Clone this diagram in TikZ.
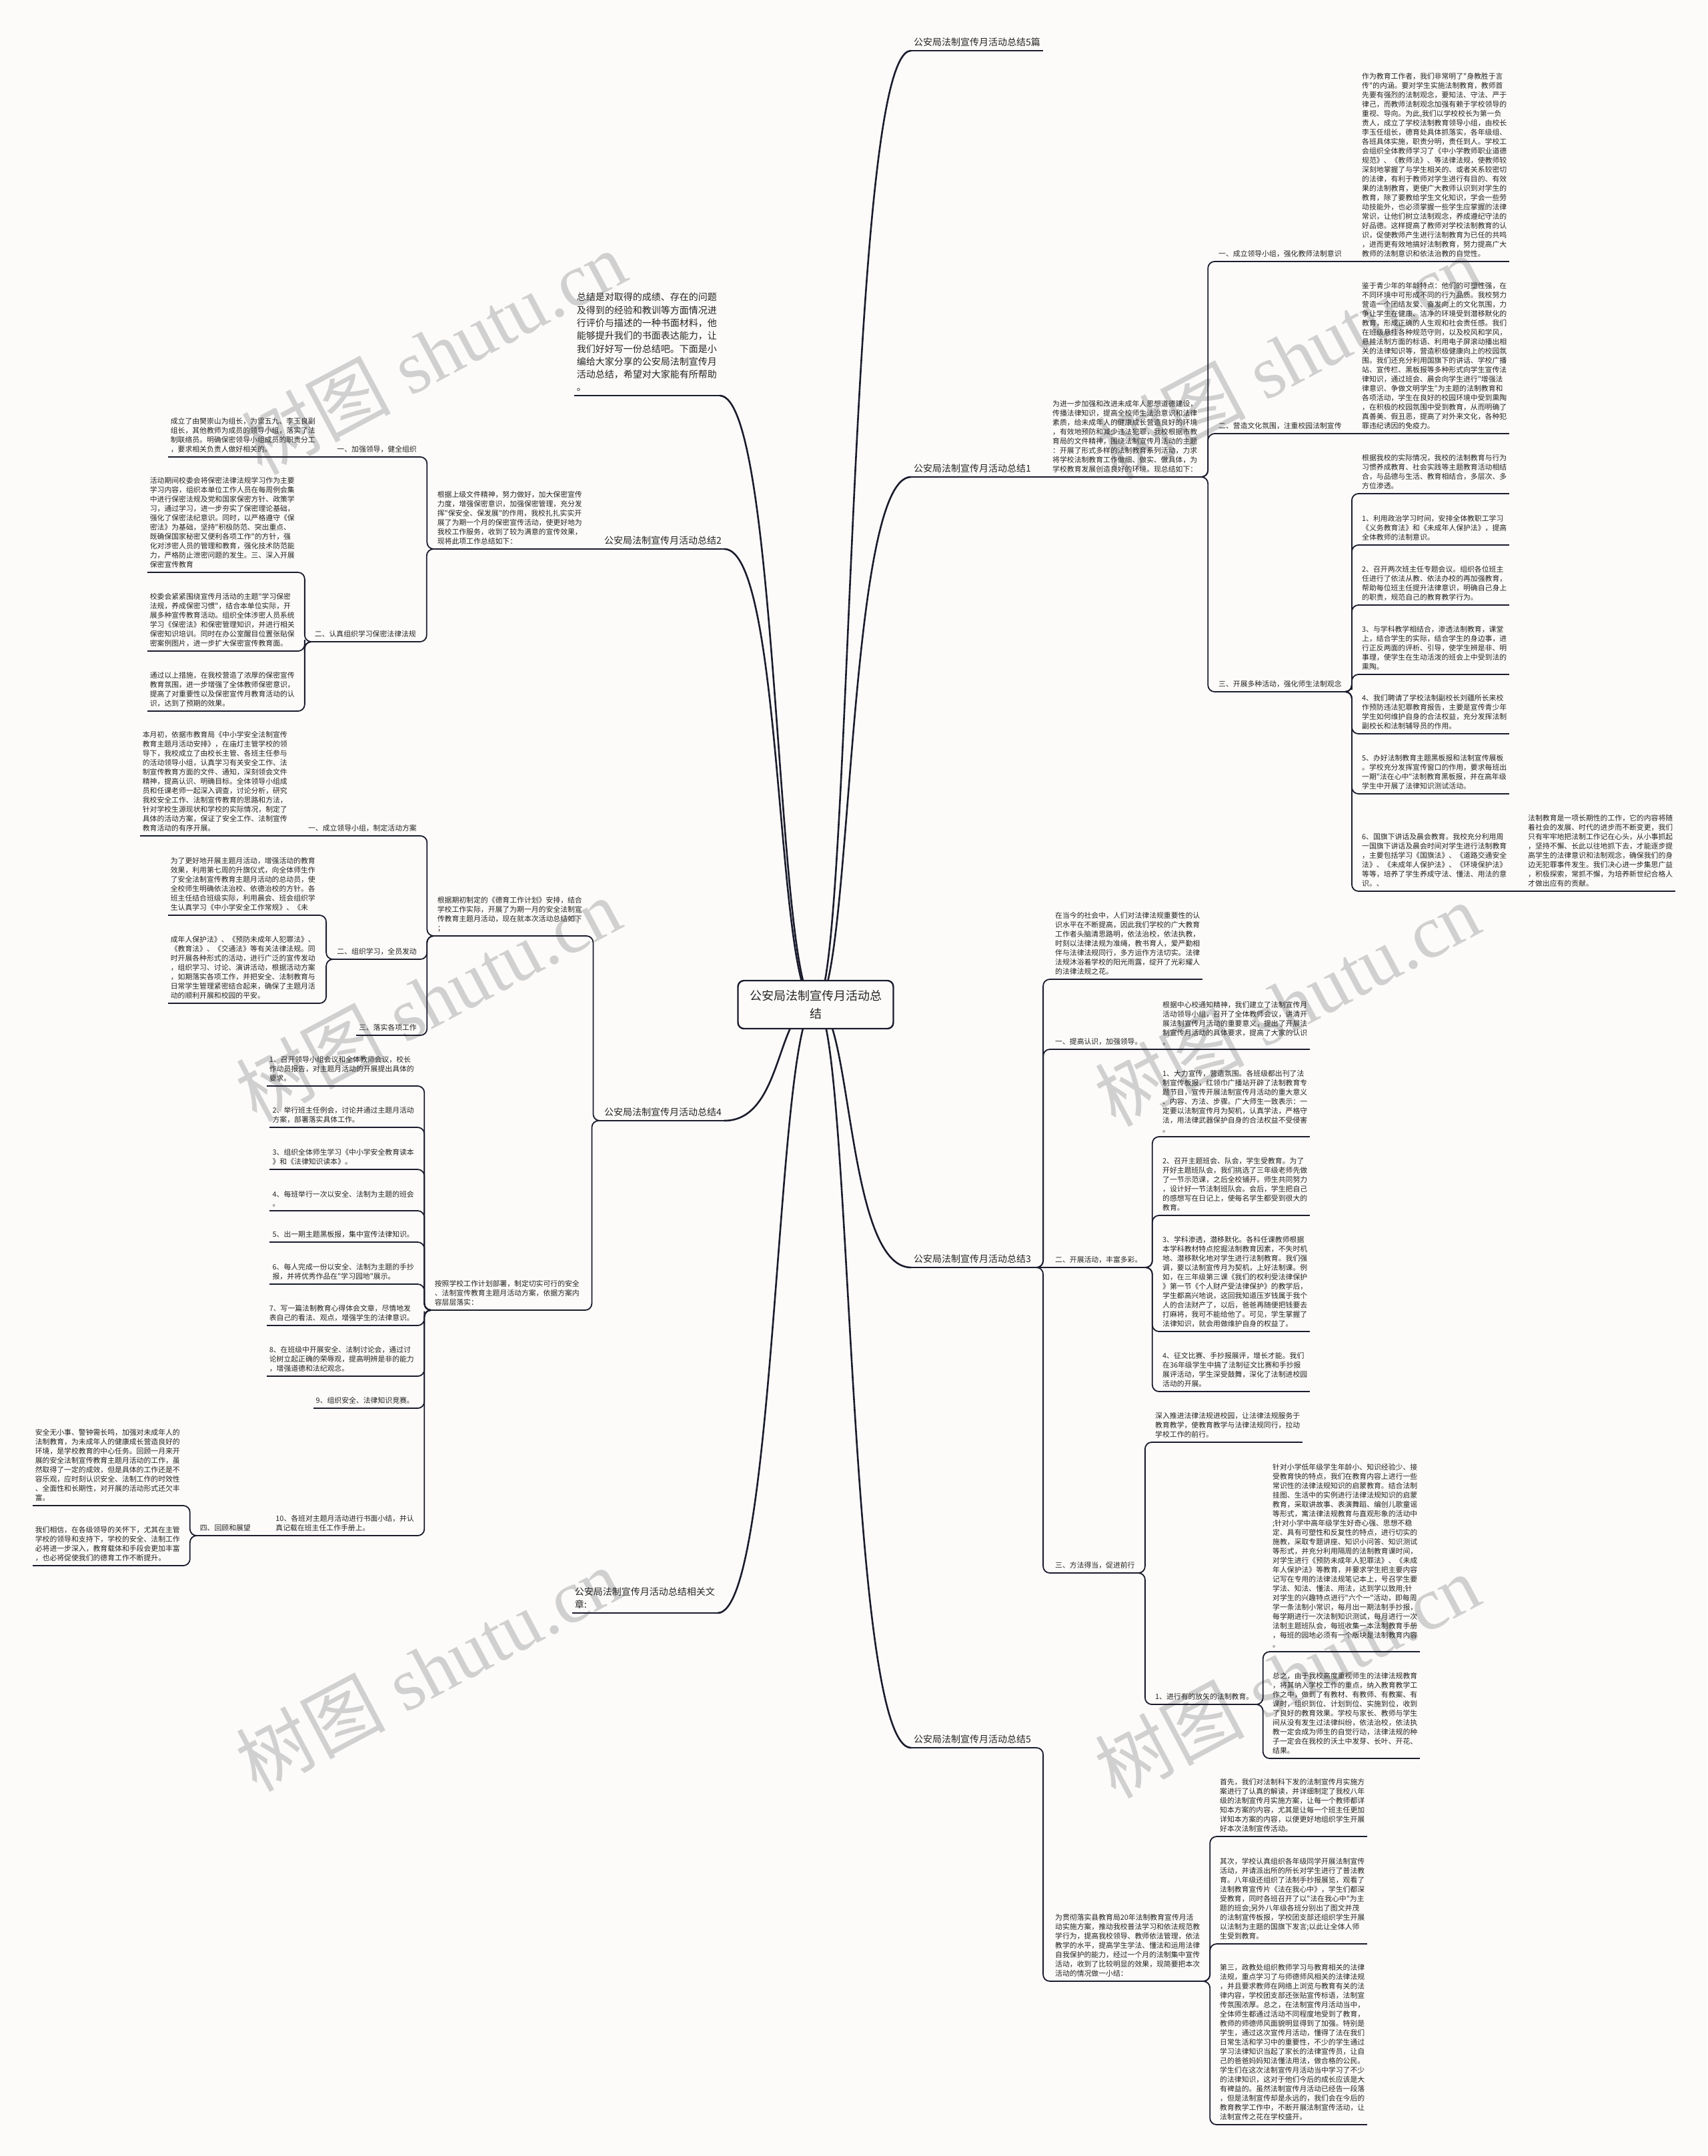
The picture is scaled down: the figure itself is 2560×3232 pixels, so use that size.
\documentclass[tikz,border=0pt]{standalone}
\usepackage{fontspec}
\newfontfamily\cjk{Noto Sans CJK SC}
\newfontfamily\wmser{Liberation Serif}
\usetikzlibrary{calc}
\definecolor{bgc}{RGB}{253,251,250}
\definecolor{lc}{RGB}{26,28,44}
\definecolor{tc}{RGB}{36,36,36}
\definecolor{wmc}{RGB}{208,208,208}
\pgfdeclarelayer{wmlayer}
\pgfdeclarelayer{bglayer}
\pgfsetlayers{wmlayer,bglayer,main}
\tikzset{
  ln/.style={draw=lc,line width=1.8pt},
  mln/.style={draw=lc,line width=2.6pt},
  tx/.style={font=\cjk\fontsize{10.85}{14}\selectfont,text=tc,align=left,inner xsep=4pt,inner ysep=6pt},
  rt/.style={tx,anchor=south west},
  lt/.style={tx,anchor=south east},
  mlab/.style={font=\cjk\fontsize{14}{19}\selectfont,text=tc,align=left,inner xsep=4pt,inner ysep=6pt},
  rm/.style={mlab,anchor=south west},
  lm/.style={mlab,anchor=south east},
  summ/.style={font=\cjk\fontsize{14}{19.3}\selectfont,text=tc,align=left,inner xsep=4pt,inner ysep=6pt,anchor=south east},
  ctrbox/.style={draw=lc,line width=2.4pt,fill=bgc,rounded corners=9pt,font=\cjk\fontsize{18}{27}\selectfont,text=tc,align=center,minimum width=233pt,minimum height=72pt},
  wm/.style={font=\wmser\fontsize{112}{112}\selectfont,text=wmc,rotate=28,inner sep=0pt},
}
\newcommand\rs[2]{\draw[ln] (#1.south east) -- (#2.south west);}
\newcommand\ls[2]{\draw[ln] (#1.south west) -- (#2.south east);}
\newcommand\rb[2]{\draw[ln,rounded corners=10pt] (#1.south east) -| ($(#1.south east)!0.5!(#2.south west)$) |- (#2.south west);}
\newcommand\lb[2]{\draw[ln,rounded corners=10pt] (#1.south west) -| ($(#1.south west)!0.5!(#2.south east)$) |- (#2.south east);}
\newcommand\mr[1]{\draw[mln] (ctr.center) .. controls +(55,0) and +(-98,0) .. (#1.south west);}
\newcommand\ml[1]{\draw[mln] (ctr.center) .. controls +(-60,0) and +(90,0) .. (#1.south east);}
\begin{document}
\begin{tikzpicture}[x=1pt,y=-1pt]
\useasboundingbox (0,0) rectangle (2560,3232);
\begin{pgfonlayer}{wmlayer}
\fill[bgc] (0,0) rectangle (2560,3232);
\node[wm] (w1) at (650,528) {{\cjk 树图} shutu.cn};
\node[wm] (w2) at (1932,535) {{\cjk 树图} shutu.cn};
\node[wm] (w3) at (642,1498) {{\cjk 树图} shutu.cn};
\node[wm] (w4) at (1930,1505) {{\cjk 树图} shutu.cn};
\node[wm] (w5) at (642,2502) {{\cjk 树图} shutu.cn};
\node[wm] (w6) at (1930,2512) {{\cjk 树图} shutu.cn};
\end{pgfonlayer}

\node[ctrbox] (ctr) at (1223,1506) {公安局法制宣传月活动总\\结};

% ---------------- right side ----------------
\node[rm] (r0) at (1366,76) {公安局法制宣传月活动总结5篇};
\node[rm] (r1) at (1366,715) {公安局法制宣传月活动总结1};
\node[rt] (r1a) at (1574,715) {为进一步加强和改进未成年人思想道德建设，\\传播法律知识，提高全校师生法治意识和法律\\素质，给未成年人的健康成长营造良好的环境\\，有效地预防和减少违法犯罪，我校根据市教\\育局的文件精神，围绕法制宣传月活动的主题\\：开展了形式多样的法制教育系列活动，力求\\将学校法制教育工作做细、做实、做具体，为\\学校教育发展创造良好的环境。现总结如下：};
\node[rt] (r1a1) at (1823,392) {一、成立领导小组，强化教师法制意识};
\node[rt] (r1a1a) at (2038,392) {作为教育工作者，我们非常明了"身教胜于言\\传"的内涵。要对学生实施法制教育，教师首\\先要有强烈的法制观念，要知法、守法、严于\\律己，而教师法制观念加强有赖于学校领导的\\重视、导向。为此,我们以学校校长为第一负\\责人，成立了学校法制教育领导小组，由校长\\李玉任组长，德育处具体抓落实，各年级组、\\各班具体实施，职责分明，责任到人。学校工\\会组织全体教师学习了《中小学教师职业道德\\规范》、《教师法》、等法律法规，使教师较\\深刻地掌握了与学生相关的、或者关系较密切\\的法律，有利于教师对学生进行有目的、有效\\果的法制教育，更使广大教师认识到对学生的\\教育，除了要教给学生文化知识，学会一些劳\\动技能外，也必须掌握一些学生应掌握的法律\\常识，让他们树立法制观念，养成遵纪守法的\\好品德。这样提高了教师对学校法制教育的认\\识，促使教师产生进行法制教育为已任的共鸣\\，进而更有效地搞好法制教育，努力提高广大\\教师的法制意识和依法治教的自觉性。};
\node[rt] (r1a2) at (1823,650) {二、营造文化氛围，注重校园法制宣传};
\node[rt] (r1a2a) at (2038,650) {鉴于青少年的年龄特点：他们的可塑性强，在\\不同环境中可形成不同的行为品质。我校努力\\营造一个团结友爱、奋发向上的文化氛围，力\\争让学生在健康、洁净的环境受到潜移默化的\\教育，形成正确的人生观和社会责任感。我们\\在班级悬挂各种规范守则，以及校风和学风，\\悬挂法制方面的标语、利用电子屏滚动播出相\\关的法律知识等，营造积极健康向上的校园氛\\围。我们还充分利用国旗下的讲话、学校广播\\站、宣传栏、黑板报等多种形式向学生宣传法\\律知识，通过班会、晨会向学生进行"增强法\\律意识、争做文明学生"为主题的法制教育和\\各项活动，学生在良好的校园环境中受到熏陶\\，在积极的校园氛围中受到教育，从而明确了\\真善美、假丑恶，提高了对外来文化，各种犯\\罪违纪诱因的免疫力。};
\node[rt] (r1a3) at (1823,1037) {三、开展多种活动，强化师生法制观念};
\node[rt] (c0) at (2038,740) {根据我校的实际情况，我校的法制教育与行为\\习惯养成教育、社会实践等主题教育活动相结\\合，与品德与生活、教育相结合，多层次、多\\方位渗透。};
\node[rt] (c1) at (2038,817) {1、利用政治学习时间，安排全体教职工学习\\《义务教育法》和《未成年人保护法》，提高\\全体教师的法制意识。};
\node[rt] (c2) at (2038,907) {2、召开两次班主任专题会议。组织各位班主\\任进行了依法从教、依法办校的再加强教育，\\帮助每位班主任提升法律意识，明确自己身上\\的职责，规范自己的教育教学行为。};
\node[rt] (c3) at (2038,1011) {3、与学科教学相结合，渗透法制教育，课堂\\上，结合学生的实际，结合学生的身边事，进\\行正反两面的评析、引导，使学生辨是非、明\\事理，使学生在生动活泼的班会上中受到法的\\熏陶。};
\node[rt] (c4) at (2038,1100) {4、我们聘请了学校法制副校长刘疆所长来校\\作预防违法犯罪教育报告，主要是宣传青少年\\学生如何维护自身的合法权益，充分发挥法制\\副校长和法制辅导员的作用。};
\node[rt] (c5) at (2038,1190) {5、办好法制教育主题黑板报和法制宣传展板\\。学校充分发挥宣传窗口的作用，要求每班出\\一期"法在心中"法制教育黑板报，并在高年级\\学生中开展了法律知识测试活动。};
\node[rt] (c6) at (2038,1336) {6、国旗下讲话及晨会教育。我校充分利用周\\一国旗下讲话及晨会时间对学生进行法制教育\\，主要包括学习《国旗法》、《道路交通安全\\法》、《未成年人保护法》、《环境保护法》\\等等，培养了学生养成守法、懂法、用法的意\\识。、};
\node[rt] (c6a) at (2287,1336) {法制教育是一项长期性的工作，它的内容将随\\着社会的发展、时代的进步而不断变更，我们\\只有牢牢地把法制工作记在心头，从小事抓起\\，坚持不懈、长此以往地抓下去，才能逐步提\\高学生的法律意识和法制观念，确保我们的身\\边无犯罪事件发生。我们决心进一步集思广益\\，积极探索，常抓不懈，为培养新世纪合格人\\才做出应有的贡献。};

\node[rm] (r3) at (1366,1900) {公安局法制宣传月活动总结3};
\node[rt] (r3a) at (1578,1468) {在当今的社会中，人们对法律法规重要性的认\\识水平在不断提高，因此我们学校的广大教育\\工作者头脑清思路明，依法治校，依法执教，\\时刻以法律法规为准绳，教书育人，爱严勤相\\伴与法律法规同行，多方运作方法切实。法律\\法规沐浴着学校的阳光雨露，绽开了光彩耀人\\的法律法规之花。};
\node[rt] (r3b) at (1578,1573) {一、提高认识，加强领导。};
\node[rt] (r3b1) at (1739,1573) {根据中心校通知精神，我们建立了法制宣传月\\活动领导小组，召开了全体教师会议，讲清开\\展法制宣传月活动的重要意义，提出了开展法\\制宣传月活动的具体要求，提高了大家的认识\\。};
\node[rt] (r3c) at (1578,1900) {二、开展活动，丰富多彩。};
\node[rt] (r3c1) at (1739,1704) {1、大力宣传，营造氛围。各班级都出刊了法\\制宣传板报，红领巾广播站开辟了法制教育专\\题节目，宣传开展法制宣传月活动的重大意义\\、内容、方法、步骤。广大师生一致表示：一\\定要以法制宣传月为契机，认真学法，严格守\\法，用法律武器保护自身的合法权益不受侵害\\。};
\node[rt] (r3c2) at (1739,1822) {2、召开主题班会、队会，学生受教育。为了\\开好主题班队会，我们挑选了三年级老师先做\\了一节示范课，之后全校铺开。师生共同努力\\，设计好一节法制班队会。会后，学生把自己\\的感想写在日记上，使每名学生都受到很大的\\教育。};
\node[rt] (r3c3) at (1739,1996) {3、学科渗透，潜移默化。各科任课教师根据\\本学科教材特点挖掘法制教育因素，不失时机\\地、潜移默化地对学生进行法制教育。我们强\\调，要以法制宣传月为契机，上好法制课。例\\如，在三年级第三课《我们的权利受法律保护\\》第一节《个人财产受法律保护》的教学后，\\学生都高兴地说，这回我知道压岁钱属于我个\\人的合法财产了，以后，爸爸再随便把钱要去\\打麻将，我可不能给他了。可见，学生掌握了\\法律知识，就会用做维护自身的权益了。};
\node[rt] (r3c4) at (1739,2086) {4、征文比赛、手抄报展评，增长才能。我们\\在36年级学生中搞了法制征文比赛和手抄报\\展评活动，学生深受鼓舞，深化了法制进校园\\活动的开展。};
\node[rt] (r3d) at (1578,2358) {三、方法得当，促进前行};
\node[rt] (r3d1) at (1728,2162) {深入推进法律法规进校园，让法律法规服务于\\教育教学，使教育教学与法律法规同行，拉动\\学校工作的前行。};
\node[rt] (r3d2) at (1728,2555) {1、进行有的放矢的法制教育。};
\node[rt] (r3d2a) at (1904,2476) {针对小学低年级学生年龄小、知识经验少、接\\受教育快的特点，我们在教育内容上进行一些\\常识性的法律法规知识的启蒙教育。结合法制\\挂图、生活中的实例进行法律法规知识的启蒙\\教育，采取讲故事、表演舞蹈、编创儿歌童谣\\等形式，寓法律法规教育与直观形象的活动中\\;针对小学中高年级学生好奇心强、思想不稳\\定、具有可塑性和反复性的特点，进行切实的\\施教，采取专题讲座、知识小问答、知识测试\\等形式，并充分利用隔周的法制教育课时间，\\对学生进行《预防未成年人犯罪法》、《未成\\年人保护法》等教育，并要求学生把主要内容\\记写在专用的法律法规笔记本上，号召学生要\\学法、知法、懂法、用法，达到学以致用;针\\对学生的兴趣特点进行"六个一"活动，即每周\\学一条法制小常识，每月出一期法制手抄报，\\每学期进行一次法制知识测试，每月进行一次\\法制主题班队会，每班收集一本法制教育手册\\，每班的园地必须有一个版块是法制教育内容\\。};
\node[rt] (r3d2b) at (1904,2636) {总之，由于我校高度重视师生的法律法规教育\\，将其纳入学校工作的重点，纳入教育教学工\\作之中，做到了有教材、有教师、有教案、有\\课时，组织到位、计划到位、实施到位，收到\\了良好的教育效果。学校与家长、教师与学生\\间从没有发生过法律纠纷，依法治校，依法执\\教一定会成为师生的自觉行动，法律法规的种\\子一定会在我校的沃土中发芽、长叶、开花、\\结果。};

\node[rm] (r5) at (1366,2620) {公安局法制宣传月活动总结5};
\node[rt] (r5a) at (1578,2970) {为贯彻落实县教育局20年法制教育宣传月活\\动实施方案，推动我校普法学习和依法规范教\\学行为，提高我校领导、教师依法管理，依法\\教学的水平，提高学生学法、懂法和运用法律\\自我保护的能力，经过一个月的法制集中宣传\\活动，收到了比较明显的效果，现简要把本次\\活动的情况做一小结：};
\node[rt] (r5a1) at (1825,2753) {首先，我们对法制科下发的法制宣传月实施方\\案进行了认真的解读，并详细制定了我校八年\\级的法制宣传月实施方案，让每一个教师都详\\知本方案的内容，尤其是让每一个班主任更加\\详知本方案的内容，以便更好地组织学生开展\\好本次法制宣传活动。};
\node[rt] (r5a2) at (1825,2914) {其次，学校认真组织各年级同学开展法制宣传\\活动，并请派出所的所长对学生进行了普法教\\育。八年级还组织了法制手抄报展览，观看了\\法制教育宣传片《法在我心中》，学生们都深\\受教育，同时各班召开了以"法在我心中"为主\\题的班会;另外八年级各班分别出了图文并茂\\的法制宣传板报，学校团支部还组织学生开展\\以法制为主题的国旗下发言;以此让全体人师\\生受到教育。};
\node[rt] (r5a3) at (1825,3185) {第三，政教处组织教师学习与教育相关的法律\\法规，重点学习了与师德师风相关的法律法规\\，并且要求教师在网络上浏览与教育有关的法\\律内容，学校团支部还张贴宣传标语，法制宣\\传氛围浓厚。总之，在法制宣传月活动当中，\\全体师生都通过活动不同程度地受到了教育，\\教师的师德师风面貌明显得到了加强。特别是\\学生，通过这次宣传月活动，懂得了法在我们\\日常生活和学习中的重要性，不少的学生通过\\学习法律知识当起了家长的法律宣传员，让自\\己的爸爸妈妈知法懂法用法，做合格的公民。\\学生们在这次法制宣传月活动当中学习了不少\\的法律知识，这对于他们今后的成长应该是大\\有裨益的。虽然法制宣传月活动已经告一段落\\，但是法制宣传却是永远的，我们会在今后的\\教育教学工作中，不断开展法制宣传活动，让\\法制宣传之花在学校盛开。};

% ---------------- left side ----------------
\node[summ] (l0) at (1079,593) {总结是对取得的成绩、存在的问题\\及得到的经验和教训等方面情况进\\行评价与描述的一种书面材料，他\\能够提升我们的书面表达能力，让\\我们好好写一份总结吧。下面是小\\编给大家分享的公安局法制宣传月\\活动总结，希望对大家能有所帮助\\。};

\node[lm] (l2) at (1086,823) {公安局法制宣传月活动总结2};
\node[lt] (l2a) at (877,823) {根据上级文件精神，努力做好，加大保密宣传\\力度，增强保密意识，加强保密管理，充分发\\挥"保安全、保发展"的作用，我校扎扎实实开\\展了为期一个月的保密宣传活动，使更好地为\\我校工作服务，收到了较为满意的宣传效果，\\现将此项工作总结如下：};
\node[lt] (l2a1) at (629,685) {一、加强领导，健全组织};
\node[lt] (l2a1a) at (477,685) {成立了由樊崇山为组长，为雷五九、李玉良副\\组长，其他教师为成员的领导小组，落实了法\\制联络员。明确保密领导小组成员的职责分工\\，要求相关负责人做好相关的。};
\node[lt] (l2a2) at (628,962) {二、认真组织学习保密法律法规};
\node[lt] (l2a2a) at (446,858) {活动期间校委会将保密法律法规学习作为主要\\学习内容，组织本单位工作人员在每周例会集\\中进行保密法规及党和国家保密方针、政策学\\习，通过学习，进一步夯实了保密理论基础，\\强化了保密法纪意识。同时，以严格遵守《保\\密法》为基础，坚持"积极防范、突出重点、\\既确保国家秘密又便利各项工作"的方针，强\\化对涉密人员的管理和教育，强化技术防范能\\力，严格防止泄密问题的发生。三、深入开展\\保密宣传教育};
\node[lt] (l2a2b) at (446,976) {校委会紧紧围绕宣传月活动的主题"学习保密\\法规，养成保密习惯"，结合本单位实际，开\\展多种宣传教育活动。组织全体涉密人员系统\\学习《保密法》和保密管理知识，并进行相关\\保密知识培训。同时在办公室醒目位置张贴保\\密案例图片，进一步扩大保密宣传教育面。};
\node[lt] (l2a2c) at (446,1066) {通过以上措施，在我校营造了浓厚的保密宣传\\教育氛围，进一步增强了全体教师保密意识，\\提高了对重要性以及保密宣传月教育活动的认\\识，达到了预期的效果。};

\node[lm] (l4) at (1086,1680) {公安局法制宣传月活动总结4};
\node[lt] (l4a) at (877,1403) {根据期初制定的《德育工作计划》安排，结合\\学校工作实际，开展了为期一月的安全法制宣\\传教育主题月活动，现在就本次活动总结如下\\；};
\node[lt] (l4a1) at (629,1253) {一、成立领导小组，制定活动方案};
\node[lt] (l4a1a) at (435,1253) {本月初，依据市教育局《中小学安全法制宣传\\教育主题月活动安排》，在庙灯主管学校的领\\导下，我校成立了由校长主管、各班主任参与\\的活动领导小组，认真学习有关安全工作、法\\制宣传教育方面的文件、通知，深刻领会文件\\精神，提高认识、明确目标。全体领导小组成\\员和任课老师一起深入调查，讨论分析，研究\\我校安全工作、法制宣传教育的思路和方法，\\针对学校生源现状和学校的实际情况，制定了\\具体的活动方案，保证了安全工作、法制宣传\\教育活动的有序开展。};
\node[lt] (l4a2) at (629,1438) {二、组织学习，全员发动};
\node[lt] (l4a2a) at (477,1372) {为了更好地开展主题月活动，增强活动的教育\\效果，利用第七周的升旗仪式，向全体师生作\\了安全法制宣传教育主题月活动的总动员，使\\全校师生明确依法治校、依德治校的方针。各\\班主任结合班级实际，利用晨会、班会组织学\\生认真学习《中小学安全工作常规》、《未};
\node[lt] (l4a2b) at (477,1504) {成年人保护法》、《预防未成年人犯罪法》、\\《教育法》、《交通法》等有关法律法规。同\\时开展各种形式的活动，进行广泛的宣传发动\\，组织学习、讨论、演讲活动，根据活动方案\\，如期落实各项工作，并把安全、法制教育与\\日常学生管理紧密结合起来，确保了主题月活\\动的顺利开展和校园的平安。};
\node[lt] (l4a3) at (629,1552) {三、落实各项工作};
\node[lt] (l4b) at (873,1964) {按照学校工作计划部署，制定切实可行的安全\\、法制宣传教育主题月活动方案，依据方案内\\容层层落实：};
\node[lt] (l4b1) at (625,1628) {1、召开领导小组会议和全体教师会议，校长\\作动员报告，对主题月活动的开展提出具体的\\要求。};
\node[lt] (l4b2) at (625,1690) {2、举行班主任例会，讨论并通过主题月活动\\方案，部署落实具体工作。};
\node[lt] (l4b3) at (625,1753) {3、组织全体师生学习《中小学安全教育读本\\》和《法律知识读本》。};
\node[lt] (l4b4) at (625,1815) {4、每班举行一次以安全、法制为主题的班会\\。};
\node[lt] (l4b5) at (625,1862) {5、出一期主题黑板报，集中宣传法律知识。};
\node[lt] (l4b6) at (625,1925) {6、每人完成一份以安全、法制为主题的手抄\\报，并将优秀作品在"学习园地"展示。};
\node[lt] (l4b7) at (625,1987) {7、写一篇法制教育心得体会文章，尽情地发\\表自己的看法、观点，增强学生的法律意识。};
\node[lt] (l4b8) at (625,2063) {8、在班级中开展安全、法制讨论会，通过讨\\论树立起正确的荣辱观，提高明辨是非的能力\\，增强道德和法纪观念。};
\node[lt] (l4b9) at (625,2111) {9、组织安全、法律知识竞赛。};
\node[lt] (l4b10) at (625,2302) {10、各班对主题月活动进行书面小结，并认\\真记载在班主任工作手册上。};
\node[lt] (l4b10a) at (380,2302) {四、回顾和展望};
\node[lt] (l4b10a1) at (274,2257) {安全无小事、警钟需长鸣，加强对未成年人的\\法制教育，为未成年人的健康成长营造良好的\\环境，是学校教育的中心任务。回顾一月来开\\展的安全法制宣传教育主题月活动的工作，虽\\然取得了一定的成效，但是具体的工作还是不\\容乐观，应时刻认识安全、法制工作的时效性\\、全面性和长期性，对开展的活动形式还欠丰\\富。};
\node[lt] (l4b10a2) at (274,2347) {我们相信，在各级领导的关怀下，尤其在主管\\学校的领导和支持下，学校的安全、法制工作\\必将进一步深入，教育载体和手段会更加丰富\\，也必将促使我们的德育工作不断提升。};

\node[lm] (l6) at (1076,2418) {公安局法制宣传月活动总结相关文\\章:};

% ---------------- underlines ----------------
\foreach \nm in {r0,r1,r1a,r1a1,r1a1a,r1a2,r1a2a,r1a3,c0,c1,c2,c3,c4,c5,c6,c6a,r3,r3a,r3b,r3b1,r3c,r3c1,r3c2,r3c3,r3c4,r3d,r3d1,r3d2,r3d2a,r3d2b,r5,r5a,r5a1,r5a2,r5a3,l0,l2,l2a,l2a1,l2a1a,l2a2,l2a2a,l2a2b,l2a2c,l4,l4a,l4a1,l4a1a,l4a2,l4a2a,l4a2b,l4a3,l4b,l4b1,l4b2,l4b3,l4b4,l4b5,l4b6,l4b7,l4b8,l4b9,l4b10,l4b10a,l4b10a1,l4b10a2,l6}
  \draw[ln] (\nm.south west) -- (\nm.south east);

% ---------------- connectors ----------------
\begin{pgfonlayer}{bglayer}
\mr{r0}\mr{r1}\mr{r3}\mr{r5}
\ml{l0}\ml{l2}\ml{l4}\ml{l6}
\end{pgfonlayer}
\rs{r1}{r1a}
\rb{r1a}{r1a1}\rb{r1a}{r1a2}\rb{r1a}{r1a3}
\rs{r1a1}{r1a1a}\rs{r1a2}{r1a2a}
\rb{r1a3}{c0}\rb{r1a3}{c1}\rb{r1a3}{c2}\rb{r1a3}{c3}\rb{r1a3}{c4}\rb{r1a3}{c5}\rb{r1a3}{c6}
\rs{c6}{c6a}
\rb{r3}{r3a}\rb{r3}{r3b}\rs{r3}{r3c}\rb{r3}{r3d}
\rs{r3b}{r3b1}
\rb{r3c}{r3c1}\rb{r3c}{r3c2}\rb{r3c}{r3c3}\rb{r3c}{r3c4}
\rb{r3d}{r3d1}\rb{r3d}{r3d2}
\rb{r3d2}{r3d2a}\rb{r3d2}{r3d2b}
\rb{r5}{r5a}
\rb{r5a}{r5a1}\rb{r5a}{r5a2}\rb{r5a}{r5a3}
\ls{l2}{l2a}
\lb{l2a}{l2a1}\lb{l2a}{l2a2}
\ls{l2a1}{l2a1a}
\lb{l2a2}{l2a2a}\lb{l2a2}{l2a2b}\lb{l2a2}{l2a2c}
\lb{l4}{l4a}\lb{l4}{l4b}
\lb{l4a}{l4a1}\lb{l4a}{l4a2}\lb{l4a}{l4a3}
\ls{l4a1}{l4a1a}
\lb{l4a2}{l4a2a}\lb{l4a2}{l4a2b}
\lb{l4b}{l4b1}\lb{l4b}{l4b2}\lb{l4b}{l4b3}\lb{l4b}{l4b4}\lb{l4b}{l4b5}
\lb{l4b}{l4b6}\lb{l4b}{l4b7}\lb{l4b}{l4b8}\lb{l4b}{l4b9}\lb{l4b}{l4b10}
\ls{l4b10}{l4b10a}
\lb{l4b10a}{l4b10a1}\lb{l4b10a}{l4b10a2}
\end{tikzpicture}
\end{document}
